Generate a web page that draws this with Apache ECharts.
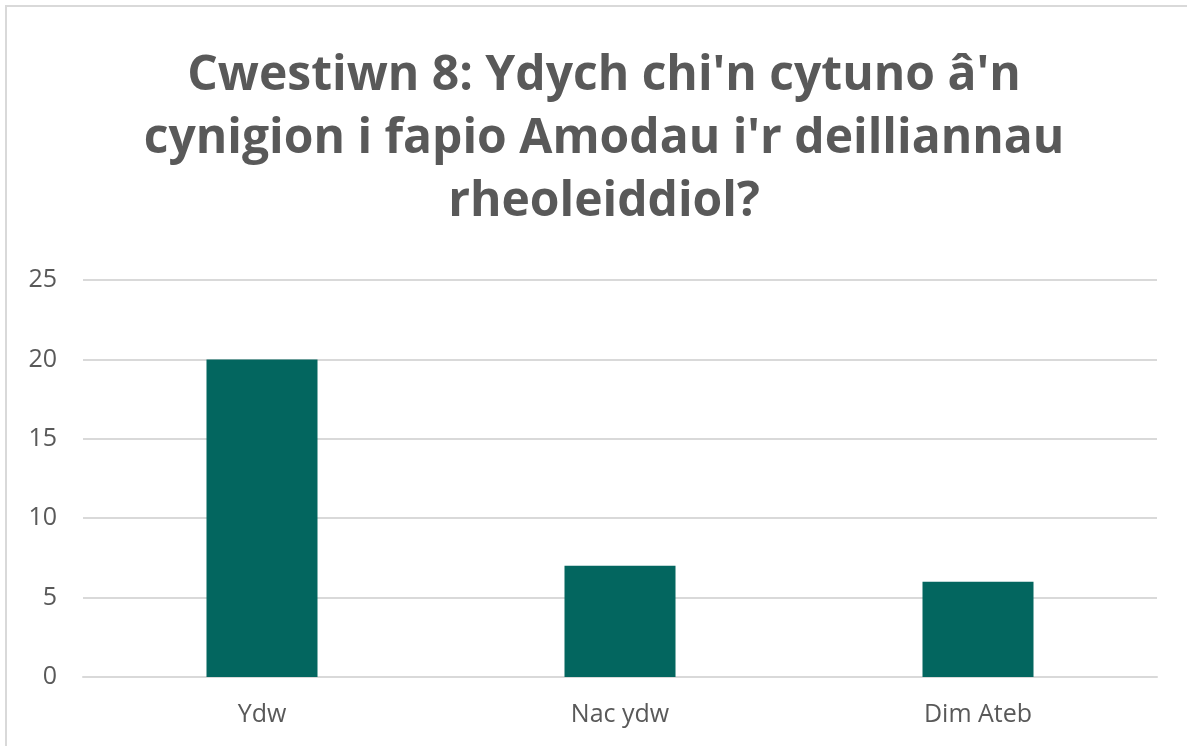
<!DOCTYPE html>
<html>
<head>
<meta charset="utf-8">
<script src="https://cdn.jsdelivr.net/npm/echarts@6/dist/echarts.min.js"></script>
<style>
  html, body { margin: 0; padding: 0; background: #fff; overflow: hidden; }
  #frame {
    position: absolute; left: 5px; top: 5px;
    width: 1200px; height: 800px;
    border: 2px solid #d9d9d9; box-sizing: border-box;
  }
  #chart { position: absolute; left: 0; top: 0; width: 1187px; height: 746px; }
</style>
</head>
<body>
<div id="frame"></div>
<div id="chart"></div>
<script>
// categories and counts
const categories = ['Ydw', 'Nac ydw', 'Dim Ateb'];
const counts = [20, 7, 6];
const titleLines = ["Cwestiwn 8: Ydych chi'n cytuno â'n", "cynigion i fapio Amodau i'r deilliannau", 'rheoleiddiol?'];

const chart = echarts.init(document.getElementById('chart'));
chart.setOption({
  animation: false,
  title: {
    text: titleLines.join('\n'),
    left: 599,
    textAlign: 'center',
    top: 40,
    textStyle: {
      fontFamily: 'Open Sans',
      fontWeight: 'bold',
      fontSize: 48,
      lineHeight: 63,
      color: '#595959'
    }
  },
  grid: {
    left: 83,
    right: 30,
    top: 280,
    bottom: 69
  },
  xAxis: {
    type: 'category',
    data: categories,
    axisTick: { show: false },
    axisLine: { lineStyle: { color: '#d9d9d9', width: 2 } },
    axisLabel: {
      margin: 25,
      fontFamily: 'Open Sans',
      fontSize: 25,
      color: '#595959'
    }
  },
  yAxis: {
    type: 'value',
    min: 0,
    max: 25,
    interval: 5,
    axisLine: { show: false },
    axisTick: { show: false },
    splitLine: { lineStyle: { color: '#d9d9d9', width: 2 } },
    axisLabel: {
      margin: 26,
      fontFamily: 'Open Sans',
      fontSize: 25,
      color: '#595959'
    }
  },
  series: [{
    type: 'bar',
    data: counts,
    barWidth: 111,
    itemStyle: { color: '#03665f' }
  }]
});
</script>
</body>
</html>
